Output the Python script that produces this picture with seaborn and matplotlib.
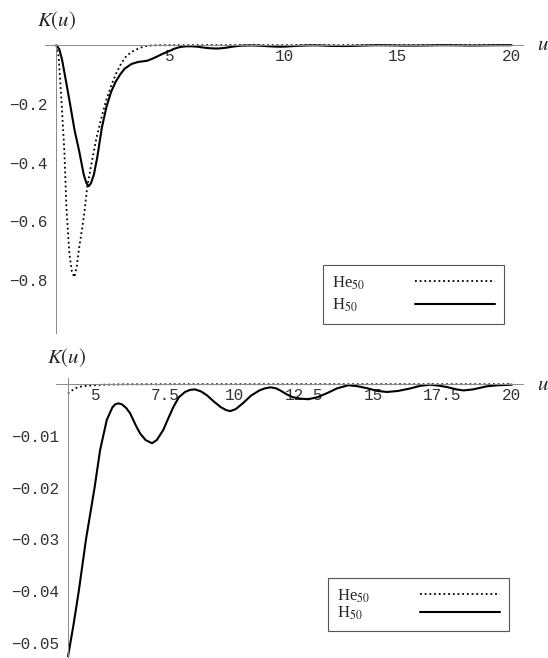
import numpy as np
import pandas as pd
import seaborn as sns
import matplotlib
matplotlib.use("Agg")
import matplotlib.pyplot as plt
from matplotlib.ticker import MultipleLocator, FixedLocator

# ---- data ----
u_H = [0, 0.13, 0.25, 0.44, 0.6, 0.8, 1.0, 1.2, 1.32, 1.42, 1.52, 1.65, 1.8, 2.0, 2.2, 2.4,
       2.6, 2.8, 3.0, 3.3, 3.6, 3.85, 4.0, 4.2, 4.39, 4.65, 4.96, 5.16, 5.4, 5.6, 5.7, 5.82,
       5.95, 6.1, 6.24, 6.45, 6.6, 6.8, 7.03, 7.2, 7.43, 7.6, 7.8, 8.0, 8.22, 8.4, 8.58, 8.8,
       9.0, 9.25, 9.5, 9.7, 9.85, 10.05, 10.3, 10.6, 10.9, 11.1, 11.3, 11.5, 11.65, 11.9,
       12.1, 12.4, 12.66, 13.0, 13.35, 13.7, 14.1, 14.45, 14.8, 15.15, 15.5, 15.9, 16.35,
       16.7, 17.06, 17.4, 17.7, 18.0, 18.26, 18.6, 19.1, 19.5, 20.0]
K_H = [0, -0.014, -0.05, -0.13, -0.2, -0.29, -0.36, -0.44, -0.47, -0.48, -0.47, -0.44,
       -0.38, -0.28, -0.21, -0.16, -0.125, -0.1, -0.08, -0.064, -0.057, -0.0545, -0.0527,
       -0.0465, -0.04, -0.03, -0.02, -0.0127, -0.0069, -0.0045, -0.0039, -0.0037,
       -0.0039, -0.0046, -0.0056, -0.008, -0.0095, -0.0108, -0.0114, -0.0108, -0.0089,
       -0.0068, -0.0044, -0.0025, -0.0015, -0.0011, -0.001, -0.0014, -0.0021, -0.0033,
       -0.0044, -0.005, -0.0052, -0.0048, -0.0037, -0.0022, -0.0012, -0.0008, -0.0006,
       -0.0008, -0.0012, -0.002, -0.0025, -0.0028, -0.0029, -0.0025, -0.0017, -0.0008,
       -0.0002, -0.0004, -0.0008, -0.0013, -0.0015, -0.0013, -0.0008, -0.0003, -0.0001,
       -0.0003, -0.0006, -0.001, -0.0012, -0.001, -0.0004, -0.0002, -0.0001]

u_He = [0, 0.1, 0.22, 0.35, 0.44, 0.57, 0.68, 0.79, 0.9, 1.0, 1.12, 1.23, 1.36, 1.55,
        1.75, 2.0, 2.2, 2.42, 2.64, 2.85, 3.07, 3.35, 3.65, 3.85, 4.0, 4.25, 4.5, 4.7,
        5.2, 6.0, 8.0, 20.0]
K_He = [0, -0.04, -0.185, -0.36, -0.55, -0.71, -0.77, -0.79, -0.75, -0.69, -0.63, -0.57,
        -0.48, -0.4, -0.32, -0.24, -0.185, -0.135, -0.094, -0.062, -0.037, -0.021, -0.010,
        -0.0045, -0.0018, -0.0008, -0.0004, -0.0003, -0.0001, -0.00003, 0.0, 0.0]

top_yticks = [-0.2, -0.4, -0.6, -0.8]
top_xticks = [5, 10, 15, 20]
bot_yticks = [-0.01, -0.02, -0.03, -0.04, -0.05]
bot_xticks = [5, 7.5, 10, 12.5, 15, 17.5, 20]
label_He = "He$_{50}$"
label_H = "H$_{50}$"

dfH = pd.DataFrame({"u": u_H, "K": K_H})
dfHe = pd.DataFrame({"u": u_He, "K": K_He})

sns.set_style("white")
plt.rcParams["mathtext.fontset"] = "stix"
plt.rcParams["font.family"] = ["Liberation Mono", "DejaVu Sans"]

W, H = 548, 658
fig = plt.figure(figsize=(W / 100, H / 100), dpi=100)


def px_axes(l, r, t, b):
    return fig.add_axes([l / W, 1 - b / H, (r - l) / W, (b - t) / H])


axis_col = "#8a8a8a"


def style_axes(ax, y0x, xticks, yticks, xminor, yminor, xfmt, yfmt):
    for s in ["top", "right"]:
        ax.spines[s].set_visible(False)
    ax.spines["left"].set_position(("data", y0x))
    ax.spines["bottom"].set_position(("data", 0))
    for s in ["left", "bottom"]:
        ax.spines[s].set_color(axis_col)
        ax.spines[s].set_linewidth(0.7)
    ax.xaxis.set_major_locator(FixedLocator(xticks))
    ax.yaxis.set_major_locator(FixedLocator(yticks))
    ax.xaxis.set_minor_locator(MultipleLocator(xminor))
    ax.yaxis.set_minor_locator(MultipleLocator(yminor))
    ax.set_xticklabels([xfmt(v) for v in xticks])
    ax.set_yticklabels([yfmt(v) for v in yticks])
    ax.tick_params(which="major", direction="in", length=4, width=0.7, color=axis_col,
                   labelsize=11.5, labelcolor="#333333", pad=3)
    ax.tick_params(which="minor", direction="in", length=2, width=0.5, color=axis_col)
    ax.tick_params(axis="y", which="major", pad=6)
    ax.set_xlabel("")
    ax.set_ylabel("")
    ax.set_facecolor("white")


# ---- top panel ----
ax1 = px_axes(45, 523, 44, 333)
sns.lineplot(data=dfHe, x="u", y="K", ax=ax1, color="black", linestyle=(0, (1, 1.6)),
             linewidth=1.3, label=label_He, sort=False)
sns.lineplot(data=dfH, x="u", y="K", ax=ax1, color="black", linestyle="-",
             linewidth=1.5, label=label_H, sort=False)
ax1.set_xlim(-0.5, 20.5)
ax1.set_ylim(-0.98, 0.004)
style_axes(ax1, 0, top_xticks, top_yticks, 1, 0.05,
           lambda v: f"{v:g}", lambda v: f"{v:.1f}".replace("-", "\u2212"))

# ---- bottom panel ----
ax2 = px_axes(56, 523, 378, 657)
sub_H = dfH[dfH["u"] >= 4]
sub_He = dfHe[dfHe["u"] >= 4]
sns.lineplot(data=sub_He, x="u", y="K", ax=ax2, color="black", linestyle=(0, (1, 1.6)),
             linewidth=1.3, label=label_He, sort=False)
sns.lineplot(data=sub_H, x="u", y="K", ax=ax2, color="black", linestyle="-",
             linewidth=1.5, label=label_H, sort=False)
ax2.set_xlim(3.57, 20.4)
ax2.set_ylim(-0.0527, 0.0012)
style_axes(ax2, 4, bot_xticks, bot_yticks, 0.5, 0.0025,
           lambda v: f"{v:g}", lambda v: f"{v:.2f}".replace("-", "\u2212"))

# axis titles
for ax, (kx, ky) in [(ax1, (37, 21)), (ax2, (47, 358))]:
    fig.text(kx / W, 1 - ky / H, "$K(u)$", fontsize=15, ha="left", va="center")
fig.text(537 / W, 1 - 45 / H, "$u$", fontsize=15, ha="left", va="center")
fig.text(537 / W, 1 - 384 / H, "$u$", fontsize=15, ha="left", va="center")

# legends (labels left, sample lines right, both left-aligned)
legs = []
for ax, (lx, ly), lsp in [(ax1, (323, 265), 0.33), (ax2, (328, 578), 0.0)]:
    leg = ax.legend(loc="upper left", bbox_to_anchor=(lx / W, 1 - ly / H),
                    bbox_transform=fig.transFigure, borderaxespad=0,
                    markerfirst=False, fancybox=False, framealpha=1,
                    edgecolor="#555555", prop={"family": "Liberation Serif", "size": 12},
                    handlelength=4.8, handletextpad=3.0, labelspacing=lsp,
                    borderpad=0.55)
    leg.get_frame().set_linewidth(0.8)
    legs.append(leg)

fig.canvas.draw()
renderer = fig.canvas.get_renderer()
pt2px = renderer.points_to_pixels(1.0)
for leg in legs:
    texts = leg.get_texts()
    widths = [t.get_window_extent(renderer).width for t in texts]
    wmax = max(widths)
    for col in leg._legend_handle_box.get_children():
        col.align = "left"
        rows = col.get_children()
        for row, w in zip(rows, widths):
            row.sep = row.sep + (wmax - w) / pt2px

fig.savefig("out.png", dpi=100)
